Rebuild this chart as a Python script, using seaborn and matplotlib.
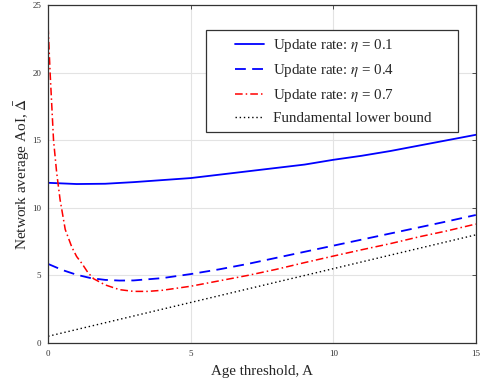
import matplotlib
matplotlib.use("Agg")
import matplotlib.pyplot as plt
from matplotlib.patches import Rectangle
import seaborn as sns

# values
a_eta01 = [0, 1, 2, 3, 4, 5, 6, 7, 8, 9, 10, 11, 12, 13, 14, 15]
aoi_eta01 = [11.85, 11.76, 11.78, 11.9, 12.05, 12.2, 12.45, 12.7, 12.95,
             13.2, 13.55, 13.85, 14.2, 14.6, 15.0, 15.4]

a_eta04 = [0, 0.5, 1, 1.5, 2, 2.5, 3, 4, 5, 6, 7, 8, 9, 10, 11, 12, 13, 14, 15]
aoi_eta04 = [5.85, 5.4, 5.05, 4.8, 4.67, 4.62, 4.63, 4.8, 5.1, 5.45, 5.85,
             6.3, 6.75, 7.2, 7.65, 8.1, 8.55, 9.0, 9.47]

a_eta07 = [0, 0.07, 0.19, 0.3, 0.42, 0.6, 0.83, 1.0, 1.18, 1.4, 1.6, 2.0, 2.5,
           3.0, 3.5, 4, 5, 6, 7, 8, 9, 10, 11, 12, 13, 14, 15]
aoi_eta07 = [23.4, 20.0, 15.0, 12.6, 10.6, 8.4, 7.1, 6.4, 5.9, 5.2, 4.75, 4.3,
             3.95, 3.82, 3.82, 3.9, 4.2, 4.6, 5.0, 5.45, 5.95, 6.43, 6.9,
             7.35, 7.85, 8.3, 8.8]

a_bound = [0, 15]
aoi_bound = [0.5, 8.0]

sns.set_style("white")
plt.rcParams["font.family"] = ["Liberation Serif", "DejaVu Serif"]
plt.rcParams["mathtext.fontset"] = "stix"

fig = plt.figure(figsize=(4.86, 3.85), dpi=100)
ax = fig.add_axes([0.099, 0.109, 0.88, 0.878])

sns.lineplot(x=a_eta01, y=aoi_eta01, ax=ax, color="#0000ff", lw=1.3,
             label=r"Update rate: $\eta$ = 0.1")
sns.lineplot(x=a_eta04, y=aoi_eta04, ax=ax, color="#0000ff", lw=1.3,
             dashes=(6, 3.5), label=r"Update rate: $\eta$ = 0.4")
sns.lineplot(x=a_eta07, y=aoi_eta07, ax=ax, color="#ff0000", lw=1.1,
             label=r"Update rate: $\eta$ = 0.7")
ax.lines[-1].set_dashes((5, 2, 1, 2))
sns.lineplot(x=a_bound, y=aoi_bound, ax=ax, color="black", lw=1.0,
             label="Fundamental lower bound")
ax.lines[-1].set_dashes((1, 2))

ax.set_xlim(0, 15)
ax.set_ylim(0, 25)
ax.set_xticks([0, 5, 10, 15])
ax.set_yticks([0, 5, 10, 15, 20, 25])
ax.grid(True, color="#e3e3e3", lw=0.8)
ax.tick_params(direction="in", top=True, right=True, labelsize=6.5,
               length=3, width=0.6, colors="#333333", pad=5)
for s in ax.spines.values():
    s.set_color("#333333")
    s.set_linewidth(0.9)

ax.set_xlabel("Age threshold, A", fontsize=10.8, labelpad=5)
ax.set_ylabel(r"Network average AoI, $\bar{\Delta}$", fontsize=11, labelpad=0)

# MATLAB-like legend: wide padded box drawn separately
leg = ax.legend(loc="upper left", bbox_to_anchor=(0.437, 0.904), fontsize=10.8,
                handlelength=1.9, frameon=False, borderpad=0, borderaxespad=0,
                labelspacing=0.52, handletextpad=0.6)
ax.add_patch(Rectangle((0.369, 0.624), 0.589, 0.302, transform=ax.transAxes,
                       facecolor="white", edgecolor="#333333", lw=0.9,
                       zorder=4))
leg.set_zorder(5)

fig.savefig("out.png", dpi=100)
